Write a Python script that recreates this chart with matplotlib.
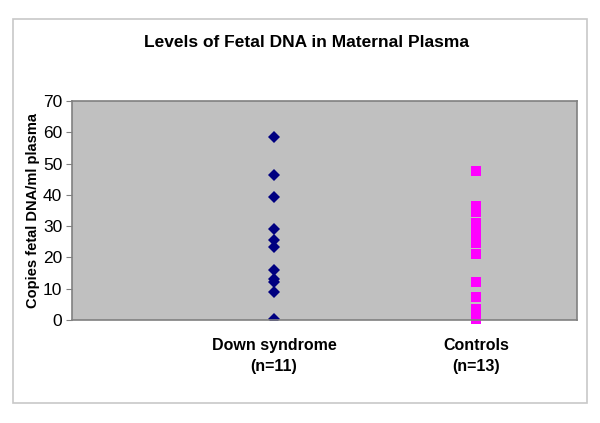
import matplotlib
matplotlib.use('Agg')
import matplotlib.pyplot as plt
from matplotlib.patches import Rectangle

# ------------ Data ---------------
groups = ['Down syndrome\n(n=11)', 'Controls\n(n=13)']
down_syndrome = [58.6, 46.3, 39.4, 29.1, 25.6, 23.2, 16.0, 13.0, 12.0, 9.0, 0.2]
controls = [47.6, 36.5, 34.5, 31.0, 29.0, 27.0, 24.5, 21.0, 12.2, 7.4, 3.5, 1.5, 0.3]
yticks = [0, 10, 20, 30, 40, 50, 60, 70]

plt.rcParams['font.family'] = ['Liberation Sans', 'DejaVu Sans']

# ------------ Plot Setup ---------------
fig = plt.figure(figsize=(6.0, 4.23), dpi=100)
# outer chart frame
fig.patches.append(Rectangle((13 / 600, 20 / 423), 574 / 600, 384 / 423,
                             transform=fig.transFigure, fill=False,
                             edgecolor='#c8c8c8', lw=1.2))

ax = fig.add_axes([0.12, 0.2435, 0.842, 0.5175])
ax.set_facecolor('#c0c0c0')
for s in ax.spines.values():
    s.set_color('#808080')
    s.set_linewidth(1.2)

ax.plot([1] * len(down_syndrome), down_syndrome, 'D', color='#000080',
        markersize=6.5, markeredgewidth=0)
ax.plot([2] * len(controls), controls, 's', color='#ff00ff',
        markersize=7.5, markeredgewidth=0, clip_on=False)

ax.set_xlim(0, 2.5)
ax.set_ylim(0, 70)
ax.set_yticks(yticks)
ax.tick_params(axis='y', labelsize=12.5, length=4, color='#808080', pad=3)
ax.set_xticks([1, 2])
ax.set_xticklabels(groups, fontsize=11.5, fontweight='bold', linespacing=1.5)
ax.tick_params(axis='x', length=0, pad=13)

ax.set_ylabel('Copies fetal DNA/ml plasma', fontsize=10.5, fontweight='bold', labelpad=2)
fig.text(0.51, 0.9, 'Levels of Fetal DNA in Maternal Plasma', ha='center', va='center',
         fontsize=12.5, fontweight='bold')

fig.savefig('out.png', dpi=100)
